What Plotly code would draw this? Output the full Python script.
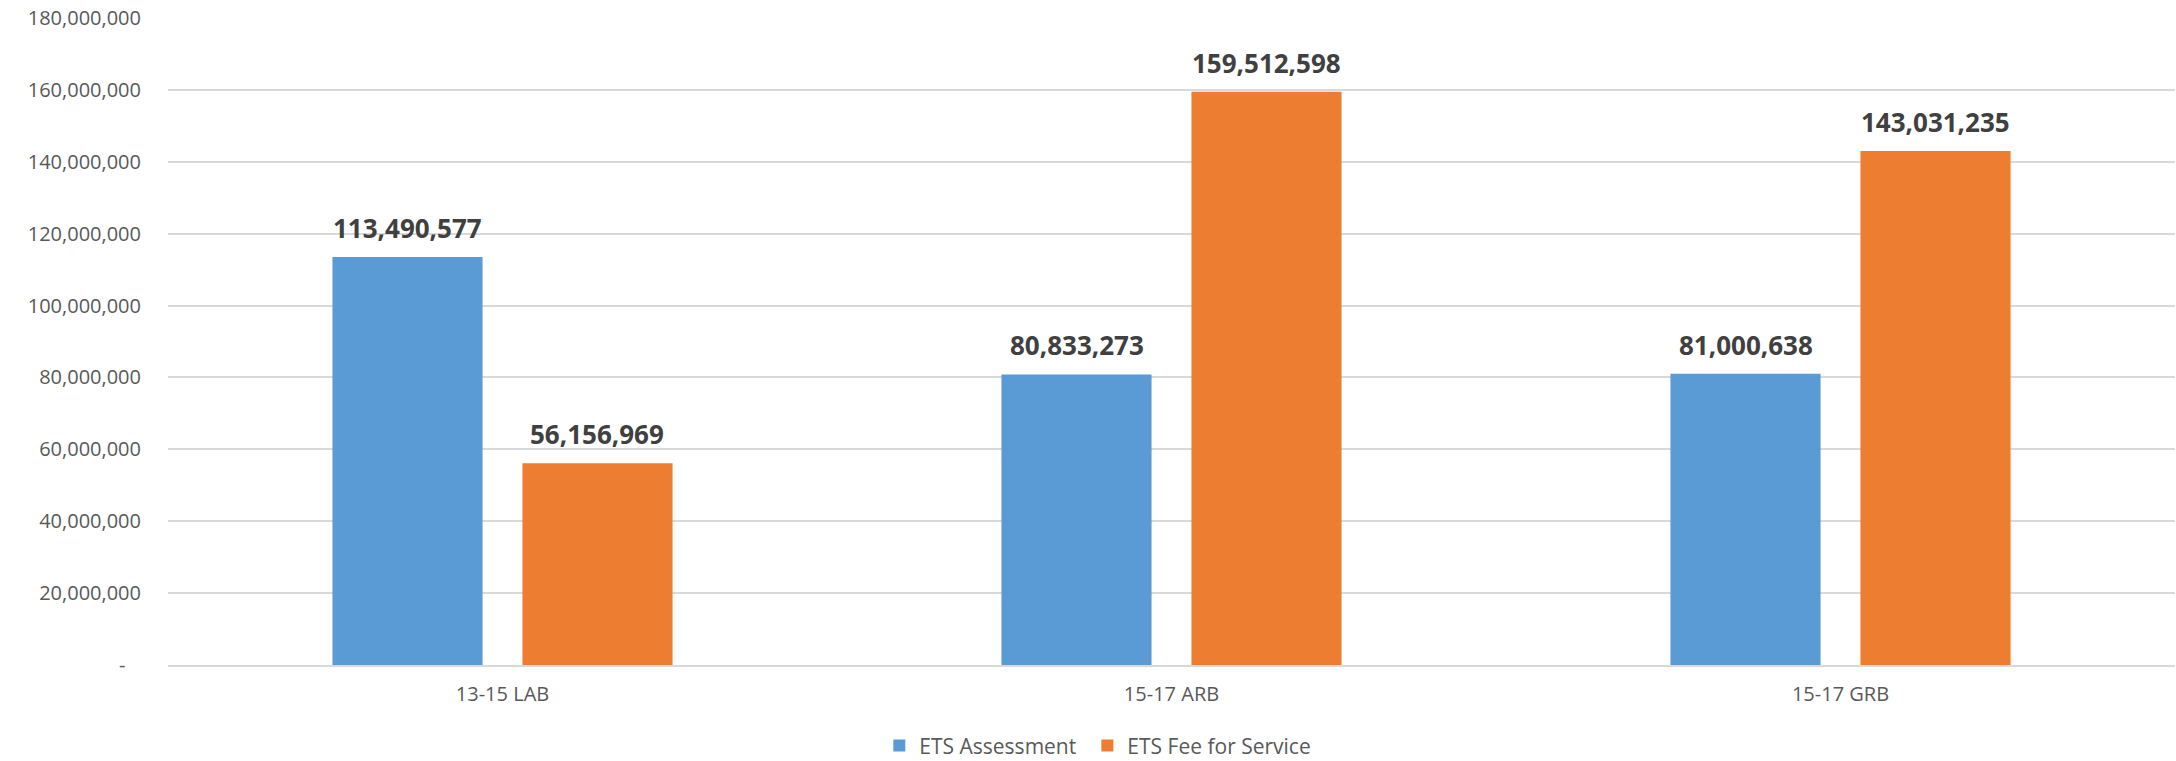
import plotly.graph_objects as go

# Budget periods and the two ETS funding sources
categories = ["13-15 LAB", "15-17 ARB", "15-17 GRB"]
ets_assessment = [113490577, 80833273, 81000638]
ets_fee_for_service = [56156969, 159512598, 143031235]

y_tick_values = [0, 20000000, 40000000, 60000000, 80000000, 100000000,
                 120000000, 140000000, 160000000, 180000000]
y_tick_labels = ["-\u00a0\u00a0\u00a0"] + [f"{v:,}" for v in y_tick_values[1:]]

BLUE = "#5B9BD5"
ORANGE = "#ED7D31"
FONT = "Open Sans"

W, H = 2176, 761
M_L, M_R, M_T, M_B = 168, 1, 18, 96
BARGAP = 0.432
BARGROUPGAP = 0.21

fig = go.Figure()
fig.add_trace(go.Bar(name="ETS Assessment", x=categories, y=ets_assessment,
                     marker=dict(color=BLUE, line=dict(width=0)), legend="legend"))
fig.add_trace(go.Bar(name="ETS Fee for Service", x=categories, y=ets_fee_for_service,
                     marker=dict(color=ORANGE, line=dict(width=0)), legend="legend2"))

# value labels above each bar
cat_px = (W - M_L - M_R) / len(categories)
shift = (1 - BARGAP) / 4 * cat_px
for series, dx in ((ets_assessment, -shift), (ets_fee_for_service, shift)):
    for c, v in zip(categories, series):
        fig.add_annotation(x=c, y=v, xref="x", yref="y", text=f"{v:,}",
                           showarrow=False, xshift=dx, yshift=9,
                           yanchor="bottom",
                           font=dict(family=FONT, size=26, color="#404040",
                                     weight="bold"))

legend_style = dict(orientation="h", xref="container", yref="container",
                    xanchor="left", y=0.02, yanchor="middle",
                    font=dict(family=FONT, size=21, color="#595959"),
                    itemwidth=30)

fig.update_layout(
    width=W, height=H,
    margin=dict(l=M_L, r=M_R, t=M_T, b=M_B),
    paper_bgcolor="white", plot_bgcolor="white",
    barmode="group", bargap=BARGAP, bargroupgap=BARGROUPGAP,
    font=dict(family=FONT, size=20, color="#595959"),
    showlegend=True,
    legend=dict(x=0.4041, **legend_style),
    legend2=dict(x=0.4997, **legend_style),
    xaxis=dict(showgrid=False, showline=True, linecolor="#d9d9d9", linewidth=2,
               ticks="", ticklabelstandoff=10,
               tickfont=dict(family=FONT, size=20, color="#595959")),
    yaxis=dict(range=[0, 180000000], tickvals=y_tick_values, ticktext=y_tick_labels,
               showgrid=True, gridcolor="#d9d9d9", gridwidth=1.5,
               zeroline=False, showline=False, ticks="", ticklabelstandoff=26,
               tickfont=dict(family=FONT, size=20, color="#595959")),
)

fig.write_html("out.html")
